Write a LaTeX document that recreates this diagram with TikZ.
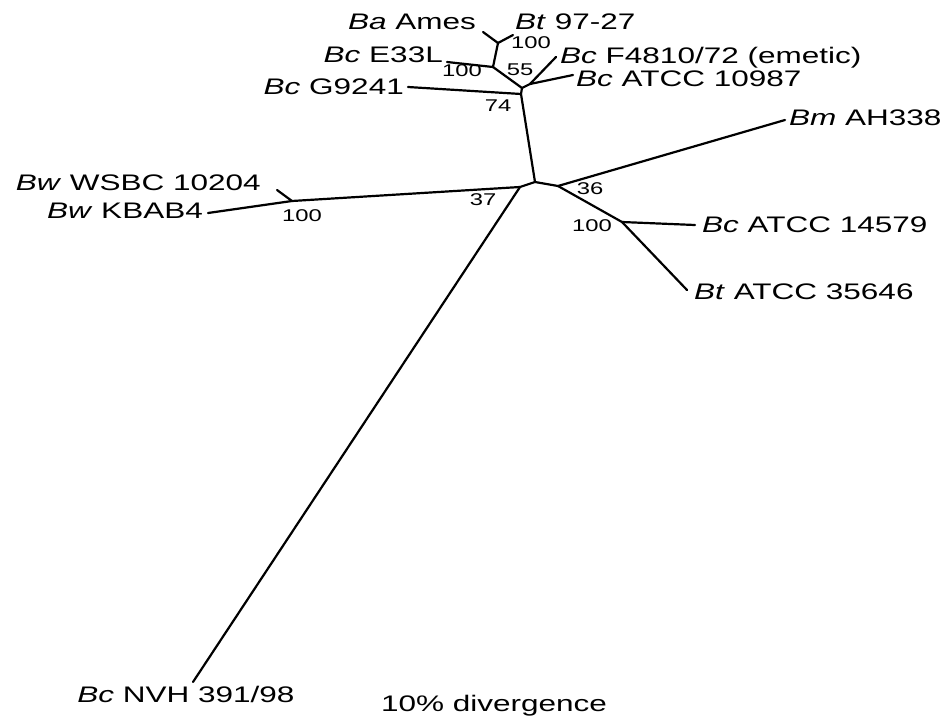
\documentclass[tikz,border=0pt]{standalone}
\usepackage{fontspec}
\setmainfont{Liberation Sans}[FakeStretch=1.4]
\begin{document}
\begin{tikzpicture}[x=1pt,y=-1pt,
  branch/.style={line width=2.2pt,line cap=round,line join=round},
  taxon/.style={inner sep=1pt,font=\fontsize{22.5}{25}\selectfont},
  boot/.style={inner sep=0pt,font=\fontsize{17}{19}\selectfont}]
\useasboundingbox (0,0) rectangle (950,720);
% inner nodes of the tree
\coordinate (nA) at (498,43);
\coordinate (nE) at (493,67);
\coordinate (n55) at (522,88);
\coordinate (nF) at (530,84);
\coordinate (n74) at (521,94);
\coordinate (root) at (535,182);
\coordinate (nL) at (520,187);
\coordinate (nR) at (558,186);
\coordinate (nW) at (292,201);
\coordinate (nT) at (622,222);
% tips
\coordinate (ames) at (483,32);
\coordinate (bt9727) at (513,35);
\coordinate (e33l) at (447,62);
\coordinate (f4810) at (556,57);
\coordinate (a10987) at (573,75);
\coordinate (g9241) at (408,87);
\coordinate (wsbc) at (277,190);
\coordinate (kbab) at (208,213);
\coordinate (nvh) at (193,682);
\coordinate (bm) at (785,120);
\coordinate (a14579) at (695,225);
\coordinate (a35646) at (687,290);
% branches
\foreach \a/\b in {nA/ames,nA/bt9727,nA/nE,nE/e33l,nE/n55,n55/nF,nF/f4810,nF/a10987,
  n55/n74,n74/g9241,n74/root,root/nL,nL/nW,nW/wsbc,nW/kbab,nL/nvh,
  root/nR,nR/bm,nR/nT,nT/a14579,nT/a35646}
  \draw[branch] (\a) -- (\b);
% taxa
\node[taxon,anchor=east] (tAmes) at (477,22) {\textit{Ba} Ames};
\node[taxon,anchor=west] (t9727) at (514,22) {\textit{Bt} 97-27};
\node[taxon,anchor=east] (tE33L) at (444,55) {\textit{Bc} E33L};
\node[taxon,anchor=west] (tF4810) at (559,58) {\textit{Bc} F4810/72 (emetic)};
\node[taxon,anchor=west] (t10987) at (575,79) {\textit{Bc} ATCC 10987};
\node[taxon,anchor=east] (tG9241) at (405,87) {\textit{Bc} G9241};
\node[taxon,anchor=west] (tBm) at (788,118) {\textit{Bm} AH338};
\node[taxon,anchor=east] (tWsbc) at (262,183) {\textit{Bw} WSBC 10204};
\node[taxon,anchor=east] (tKbab) at (204,211) {\textit{Bw} KBAB4};
\node[taxon,anchor=west] (t14579) at (701,225) {\textit{Bc} ATCC 14579};
\node[taxon,anchor=west] (t35646) at (693,292) {\textit{Bt} ATCC 35646};
\node[taxon] (tNvh) at (186,694) {\textit{Bc} NVH 391/98};
\node[taxon] (scale) at (494,706) {10\% divergence};
% bootstrap values
\node[boot] (b1) at (531,43) {100};
\node[boot] (b2) at (462,71) {100};
\node[boot] (b3) at (520,70) {55};
\node[boot] (b4) at (498,106) {74};
\node[boot] (b5) at (483,200) {37};
\node[boot] (b6) at (590,189) {36};
\node[boot] (b7) at (592,226) {100};
\node[boot] (b8) at (302,216) {100};
\end{tikzpicture}
\end{document}
